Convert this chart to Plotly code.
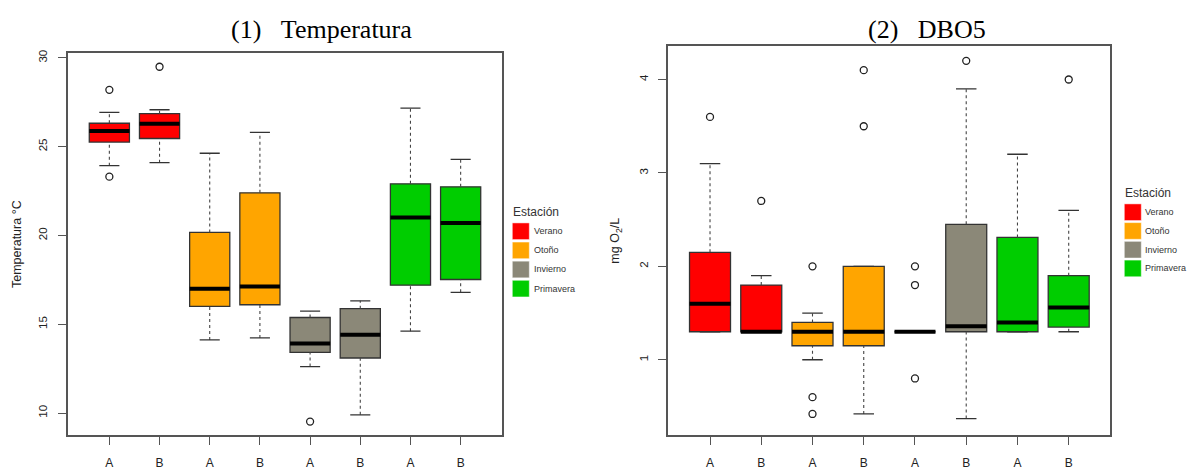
import plotly.graph_objects as go

W, H = 1187, 470

# ---------------- data ----------------
positions = [1, 2, 3, 4, 5, 6, 7, 8]
tick_labels = ["A", "B", "A", "B", "A", "B", "A", "B"]
seasons = ["Verano", "Otoño", "Invierno", "Primavera"]
season_colors = ["#FF0000", "#FFA500", "#8B8878", "#00CD00"]
box_season = [0, 0, 1, 1, 2, 2, 3, 3]

# (1) Temperatura
temp_lo = [23.93, 24.10, 14.12, 14.23, 12.62, 9.90, 14.61, 16.80]
temp_q1 = [25.26, 25.46, 16.01, 16.10, 13.42, 13.10, 17.20, 17.52]
temp_med = [25.88, 26.29, 17.00, 17.12, 13.92, 14.41, 21.01, 20.70]
temp_q3 = [26.32, 26.86, 20.17, 22.40, 15.38, 15.88, 22.91, 22.74]
temp_hi = [26.93, 27.08, 24.63, 25.81, 15.74, 16.32, 27.17, 24.29]
temp_out_x = [1, 1, 2, 5]
temp_out_y = [28.20, 23.31, 29.50, 9.52]

# (2) DBO5
dbo_lo = [1.30, 1.30, 1.00, 0.42, 1.30, 0.37, 1.30, 1.30]
dbo_q1 = [1.30, 1.30, 1.15, 1.15, 1.30, 1.30, 1.30, 1.35]
dbo_med = [1.60, 1.30, 1.30, 1.30, 1.30, 1.36, 1.40, 1.56]
dbo_q3 = [2.15, 1.80, 1.40, 2.00, 1.30, 2.45, 2.31, 1.90]
dbo_hi = [3.10, 1.90, 1.50, 2.00, 1.30, 3.90, 3.20, 2.60]
dbo_out_x = [1, 2, 3, 3, 3, 4, 4, 5, 5, 5, 6, 8]
dbo_out_y = [3.60, 2.70, 2.00, 0.60, 0.42, 4.10, 3.50, 2.00, 1.80, 0.80, 4.20, 4.00]

BOXW = 0.8
CAPW = 0.4
EDGE = "#333333"

fig = go.Figure()


def add_panel(xa, ya, lo, q1, med, q3, hi, ox, oy):
    xref = "x" if xa == "xaxis" else "x2"
    yref = "y" if ya == "yaxis" else "y2"
    # whiskers (dashed) and caps (solid)
    wx, wy, cx, cy = [], [], [], []
    for p, a, b, c, d in zip(positions, lo, q1, q3, hi):
        wx += [p, p, None, p, p, None]
        wy += [c, d, None, a, b, None]
        cx += [p - CAPW / 2, p + CAPW / 2, None, p - CAPW / 2, p + CAPW / 2, None]
        cy += [d, d, None, a, a, None]
    fig.add_trace(go.Scatter(x=wx, y=wy, mode="lines", xaxis=xref, yaxis=yref,
                             line=dict(color="#444444", width=1.1, dash="3px,3px"),
                             showlegend=False, hoverinfo="skip"))
    fig.add_trace(go.Scatter(x=cx, y=cy, mode="lines", xaxis=xref, yaxis=yref,
                             line=dict(color=EDGE, width=1.3),
                             showlegend=False, hoverinfo="skip"))
    # boxes
    for i, p in enumerate(positions):
        col = season_colors[box_season[i]]
        fig.add_trace(go.Box(x=[p], q1=[q1[i]], median=[med[i]], q3=[q3[i]],
                             lowerfence=[q1[i]], upperfence=[q3[i]],
                             width=BOXW, whiskerwidth=0,
                             fillcolor=col, line=dict(color=EDGE, width=1.3),
                             xaxis=xref, yaxis=yref, showlegend=False,
                             hoverinfo="skip", boxpoints=False))
    # medians (thick)
    mx, my = [], []
    for p, m in zip(positions, med):
        mx += [p - BOXW / 2, p + BOXW / 2, None]
        my += [m, m, None]
    fig.add_trace(go.Scatter(x=mx, y=my, mode="lines", xaxis=xref, yaxis=yref,
                             line=dict(color="black", width=4),
                             showlegend=False, hoverinfo="skip"))
    # outliers
    fig.add_trace(go.Scatter(x=ox, y=oy, mode="markers", xaxis=xref, yaxis=yref,
                             marker=dict(symbol="circle-open", size=7,
                                         color="#222222", line=dict(width=1.3)),
                             showlegend=False, hoverinfo="skip"))


add_panel("xaxis", "yaxis", temp_lo, temp_q1, temp_med, temp_q3, temp_hi,
          temp_out_x, temp_out_y)
add_panel("xaxis2", "yaxis2", dbo_lo, dbo_q1, dbo_med, dbo_q3, dbo_hi,
          dbo_out_x, dbo_out_y)


def px_x(v):
    return v / W


def px_y(v):
    return 1 - v / H


axis_common = dict(showline=True, mirror=True, linecolor="#555555", linewidth=1.5,
                   ticks="outside", ticklen=8, tickcolor="#555555", tickwidth=1.3,
                   showgrid=False, zeroline=False,
                   tickfont=dict(family="Liberation Sans, Arial", size=12, color="#222222"))

fig.update_layout(
    width=W, height=H,
    margin=dict(l=0, r=0, t=0, b=0),
    paper_bgcolor="white", plot_bgcolor="white",
    showlegend=False,
    boxmode="overlay",
    xaxis=dict(domain=[px_x(67.7), px_x(502.3)], range=[0.17, 8.83],
               tickmode="array", tickvals=positions, ticktext=tick_labels,
               ticklabelstandoff=8, anchor="y", **axis_common),
    yaxis=dict(domain=[px_y(440.7), px_y(50.7)], range=[8.75, 30.29],
               tickvals=[10, 15, 20, 25, 30], tickangle=-90,
               ticklabelstandoff=6, anchor="x", **axis_common),
    xaxis2=dict(domain=[px_x(668), px_x(1109.7)], range=[0.18, 8.8],
                tickmode="array", tickvals=positions, ticktext=tick_labels,
                ticklabelstandoff=8, anchor="y2", **axis_common),
    yaxis2=dict(domain=[px_y(440.3), px_y(44.3)], range=[0.196, 4.354],
                tickvals=[1, 2, 3, 4], tickangle=-90,
                ticklabelstandoff=6, anchor="x2", **axis_common),
)
fig.update_yaxes(tickfont=dict(size=11.5))

annotations = []
shapes = []
# titles
annotations.append(dict(text="(1)\u00a0\u00a0\u00a0Temperatura", x=px_x(321.5), y=px_y(27),
                        xref="paper", yref="paper", showarrow=False,
                        font=dict(family="Liberation Serif, Times New Roman", size=26, color="black"),
                        xanchor="center", yanchor="middle"))
annotations.append(dict(text="(2)\u00a0\u00a0\u00a0DBO5", x=px_x(926.8), y=px_y(27),
                        xref="paper", yref="paper", showarrow=False,
                        font=dict(family="Liberation Serif, Times New Roman", size=26, color="black"),
                        xanchor="center", yanchor="middle"))
# axis titles
annotations.append(dict(text="Temperatura °C", x=px_x(17), y=px_y(245.7),
                        xref="paper", yref="paper", showarrow=False, textangle=-90,
                        font=dict(family="Liberation Sans, Arial", size=12.5, color="#222222"),
                        xanchor="center", yanchor="middle"))
annotations.append(dict(text="mg O<sub>2</sub>/L", x=px_x(616), y=px_y(242.3),
                        xref="paper", yref="paper", showarrow=False, textangle=-90,
                        font=dict(family="Liberation Sans, Arial", size=12.5, color="#222222"),
                        xanchor="center", yanchor="middle"))

# legends
legend_specs = [
    dict(x0=512.3, title_y=212.7, first=232.7, step=19.5, text_x=532.7),
    dict(x0=1124.3, title_y=193.3, first=213.3, step=19.1, text_x=1143.8),
]
for spec in legend_specs:
    annotations.append(dict(text="Estación", x=px_x(spec["x0"] - 1), y=px_y(spec["title_y"]),
                            xref="paper", yref="paper", showarrow=False,
                            font=dict(family="Liberation Sans, Arial", size=12, color="#333333"),
                            xanchor="left", yanchor="middle"))
    for k, (name, col) in enumerate(zip(seasons, season_colors)):
        yc = spec["first"] + k * spec["step"]
        shapes.append(dict(type="rect", xref="paper", yref="paper",
                           x0=px_x(spec["x0"]), x1=px_x(spec["x0"] + 17),
                           y0=px_y(yc + 8.5), y1=px_y(yc - 8.5),
                           fillcolor=col, line=dict(width=0.8, color="rgba(255,255,255,0.6)")))
        annotations.append(dict(text=name, x=px_x(spec["text_x"]), y=px_y(yc),
                                xref="paper", yref="paper", showarrow=False,
                                font=dict(family="Liberation Sans, Arial", size=9, color="#333333"),
                                xanchor="left", yanchor="middle", borderpad=0))

fig.update_layout(annotations=annotations, shapes=shapes)

fig.write_html("out.html", config={"displayModeBar": False})
